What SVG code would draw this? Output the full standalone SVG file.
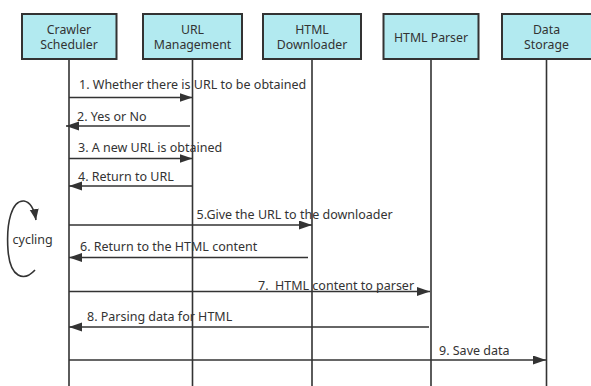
<svg xmlns="http://www.w3.org/2000/svg" width="591" height="386" viewBox="0 0 591 386">
  <style>
    .box { fill: #b2eaf0; stroke: #333333; stroke-width: 2; }
    .life { stroke: #333333; stroke-width: 1.6; fill: none; }
    .msg { stroke: #333333; stroke-width: 1.6; fill: none; marker-end: url(#head); }
    .title { font-family: "Noto Sans", "Open Sans", sans-serif; font-size: 12.3px; fill: #333333; text-anchor: middle; }
    .label { font-family: "Noto Sans", "Open Sans", sans-serif; font-size: 12.5px; fill: #333333; }
  </style>
  <defs>
    <marker id="head" markerUnits="userSpaceOnUse" markerWidth="14" markerHeight="10" refX="13" refY="4.5" orient="auto">
      <path d="M0,0 L13,4.5 L0,9 z" fill="#333333"/>
    </marker>
    <marker id="loophead" markerUnits="userSpaceOnUse" markerWidth="14" markerHeight="10" refX="11" refY="4.5" orient="auto">
      <path d="M0,0 L11,4.5 L0,9 z" fill="#333333"/>
    </marker>
  </defs>

  <rect width="591" height="386" fill="#ffffff"/>

  <!-- lifelines -->
  <g id="lifelines">
    <line class="life" x1="69" y1="59" x2="69" y2="386"/>
    <line class="life" x1="192.5" y1="59" x2="192.5" y2="386"/>
    <line class="life" x1="312" y1="59" x2="312" y2="386"/>
    <line class="life" x1="431" y1="59" x2="431" y2="386"/>
    <line class="life" x1="546.5" y1="59" x2="546.5" y2="386"/>
  </g>

  <!-- participants -->
  <g id="crawler-scheduler">
    <rect class="box" x="22" y="14" width="94.5" height="45"/>
    <text class="title" x="69" y="33.5">Crawler</text>
    <text class="title" x="69" y="49">Scheduler</text>
  </g>
  <g id="url-management">
    <rect class="box" x="143" y="14" width="99" height="45"/>
    <text class="title" x="192.5" y="33.5">URL</text>
    <text class="title" x="192.5" y="49">Management</text>
  </g>
  <g id="html-downloader">
    <rect class="box" x="263" y="14" width="98" height="45"/>
    <text class="title" x="312" y="33.5">HTML</text>
    <text class="title" x="312" y="49">Downloader</text>
  </g>
  <g id="html-parser">
    <rect class="box" x="383.5" y="14" width="95" height="45"/>
    <text class="title" x="431" y="41.5">HTML Parser</text>
  </g>
  <g id="data-storage">
    <rect class="box" x="502" y="14" width="95" height="45"/>
    <text class="title" x="546.5" y="33.5">Data</text>
    <text class="title" x="546.5" y="49">Storage</text>
  </g>

  <!-- messages -->
  <g id="connectors">
    <line class="msg" x1="69" y1="97.5" x2="192.5" y2="97.5"/>
    <line class="msg" x1="190" y1="126" x2="66" y2="126"/>
    <line class="msg" x1="69" y1="158.5" x2="192.5" y2="158.5"/>
    <line class="msg" x1="192.5" y1="186" x2="69" y2="186"/>
    <line class="msg" x1="69" y1="225" x2="312" y2="225"/>
    <line class="msg" x1="308" y1="257.5" x2="69" y2="257.5"/>
    <line class="msg" x1="69" y1="291.5" x2="430" y2="291.5"/>
    <line class="msg" x1="429" y1="327" x2="69" y2="327"/>
    <line class="msg" x1="69" y1="360" x2="546" y2="360"/>
    <path d="M35,270 C24,282 10,278 8,250 C6,222 12,200 24,201 C30,202 34,208 36,220" fill="none" stroke="#333333" stroke-width="1.6" marker-end="url(#loophead)"/>
  </g>

  <!-- message labels -->
  <g id="labels">
    <text class="label" x="79" y="89">1. Whether there is URL to be obtained</text>
    <text class="label" x="77" y="121">2. Yes or No</text>
    <text class="label" x="78" y="151.5">3. A new URL is obtained</text>
    <text class="label" x="78" y="181">4. Return to URL</text>
    <text class="label" x="196.5" y="219">5.Give the URL to the downloader</text>
    <text class="label" x="80" y="251">6. Return to the HTML content</text>
    <text class="label" x="258" y="290" xml:space="preserve">7.  HTML content to parser</text>
    <text class="label" x="87" y="321">8. Parsing data for HTML</text>
    <text class="label" x="439" y="355">9. Save data</text>
    <text class="label" x="12.5" y="244" font-size="13.5">cycling</text>
  </g>
</svg>
